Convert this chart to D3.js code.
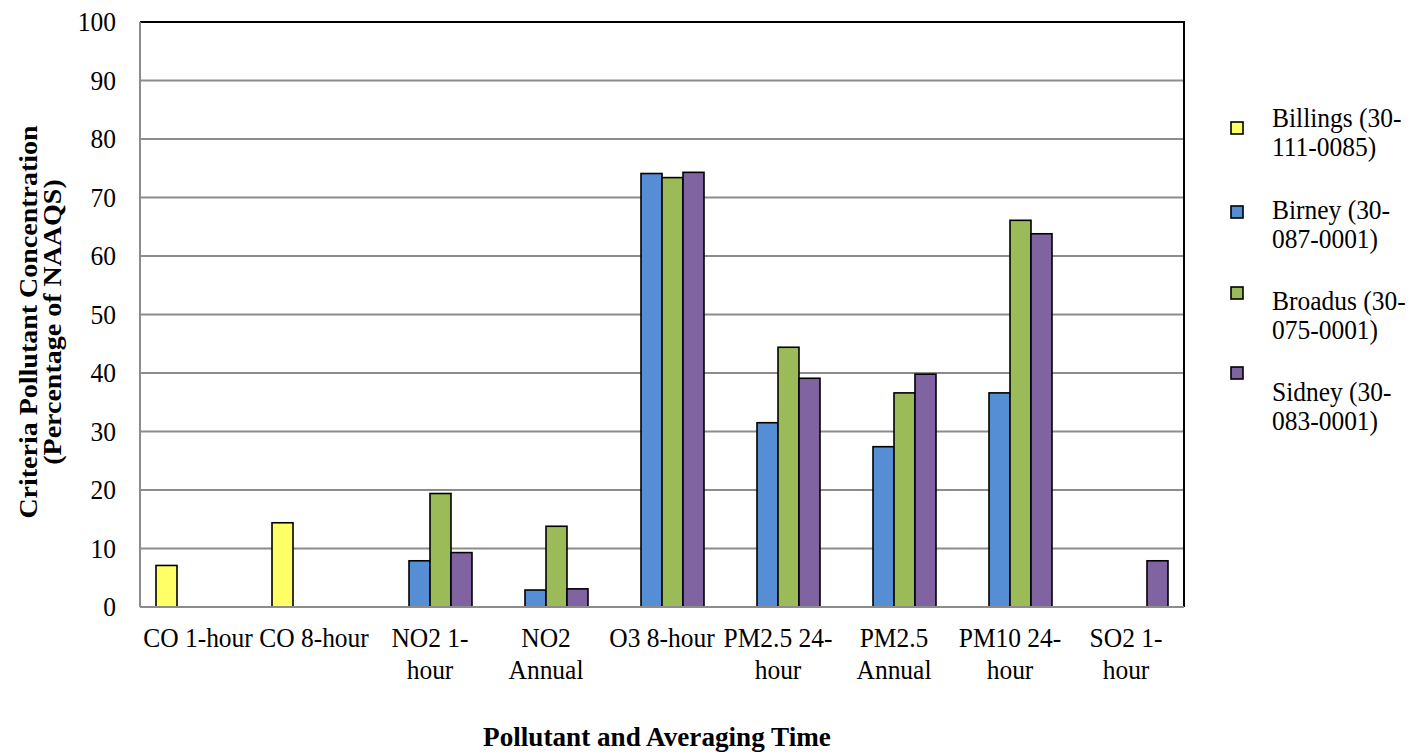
<!DOCTYPE html>
<html>
<head>
<meta charset="utf-8">
<script src="https://cdn.jsdelivr.net/npm/d3@7"></script>
<style>
  html, body { margin: 0; padding: 0; background: #fff; }
  svg { display: block; }
  svg text { font-family: "Liberation Serif", "Times New Roman", serif; fill: #000; }
</style>
</head>
<body>
<svg id="chart" width="1418" height="754"></svg>
<script>
// Pollutants / averaging times
const categories = ["CO 1-hour", "CO 8-hour", "NO2 1-hour", "NO2 Annual", "O3 8-hour",
  "PM2.5 24-hour", "PM2.5 Annual", "PM10 24-hour", "SO2 1-hour"];
// Wrapped tick labels, one array of lines per category
const tickLabels = [["CO 1-hour"], ["CO 8-hour"], ["NO2 1-", "hour"], ["NO2", "Annual"],
  ["O3 8-hour"], ["PM2.5 24-", "hour"], ["PM2.5", "Annual"], ["PM10 24-", "hour"], ["SO2 1-", "hour"]];
// Monitoring sites
const seriesNames = ["Billings (30-111-0085)", "Birney (30-087-0001)", "Broadus (30-075-0001)", "Sidney (30-083-0001)"];
const legendLines = [["Billings (30-", "111-0085)"], ["Birney (30-", "087-0001)"], ["Broadus (30-", "075-0001)"], ["Sidney (30-", "083-0001)"]];
// Percentage of NAAQS (null = not monitored)
const billings = [7.1, 14.4, null, null, null, null, null, null, null];
const birney   = [null, null, 7.9, 2.9, 74.1, 31.5, 27.4, 36.6, null];
const broadus  = [null, null, 19.4, 13.8, 73.4, 44.4, 36.6, 66.1, null];
const sidney   = [null, null, 9.3, 3.1, 74.3, 39.1, 39.8, 63.8, 7.9];
const yTicks = [0, 10, 20, 30, 40, 50, 60, 70, 80, 90, 100];
const colors = ["#FFFF66", "#558ED5", "#9BBB59", "#8064A2"];

const seriesValues = [billings, birney, broadus, sidney];

const svg = d3.select("#chart");
const plot = { left: 140, right: 1184, top: 22, bottom: 607 };
const SX = 0.91;         // horizontal text squeeze
const FS = 28;           // label font size

const x = d3.scaleBand().domain(categories).range([plot.left, plot.right]).paddingInner(0.276).paddingOuter(0.138);
const xs = d3.scaleBand().domain(d3.range(seriesNames.length)).range([0, x.bandwidth()]);
const y = d3.scaleLinear().domain([0, 100]).range([plot.bottom, plot.top]);

// text placed at (px, py) with a horizontal squeeze
function label(g, px, py, lines, opts = {}) {
  const t = g.append("text")
    .attr("transform", `translate(${px},${py}) scale(${opts.sx || SX},1)`)
    .attr("text-anchor", opts.anchor || "start")
    .attr("font-size", opts.size || FS)
    .attr("font-weight", opts.weight || "normal");
  lines.forEach((line, j) => {
    t.append("tspan").attr("x", 0).attr("y", j * (opts.lh || 0)).text(line);
  });
  return t;
}

// Gridlines
svg.append("g").selectAll("line").data(yTicks.filter(d => d > 0 && d < 100)).join("line")
  .attr("x1", plot.left).attr("x2", plot.right)
  .attr("y1", d => y(d)).attr("y2", d => y(d))
  .attr("stroke", "#8c8c8c").attr("stroke-width", 2);

// Top and right frame
svg.append("path")
  .attr("d", `M${plot.left},${plot.top}H${plot.right}V${plot.bottom}`)
  .attr("fill", "none").attr("stroke", "#000").attr("stroke-width", 2);

// Bars
const barData = [];
seriesValues.forEach((vals, s) => vals.forEach((v, i) => {
  if (v != null) barData.push({ s, cat: categories[i], v });
}));
svg.append("g").selectAll("rect").data(barData).join("rect")
  .attr("x", d => x(d.cat) + xs(d.s))
  .attr("y", d => y(d.v))
  .attr("width", xs.bandwidth())
  .attr("height", d => y(0) - y(d.v))
  .attr("fill", d => colors[d.s])
  .attr("stroke", "#000").attr("stroke-width", 1.6);

// Y axis
const yAxis = svg.append("g").attr("transform", `translate(${plot.left},0)`)
  .call(d3.axisLeft(y).tickValues(yTicks).tickSize(0).tickFormat(""));
yAxis.select(".domain").attr("stroke", "#8c8c8c").attr("stroke-width", 2)
  .attr("d", `M0,${plot.top}V${plot.bottom}`);
const yl = svg.append("g");
yTicks.forEach(v => label(yl, 116, y(v) + 9, [String(v)], { anchor: "end" }));

// X axis
const xAxis = svg.append("g").attr("transform", `translate(0,${plot.bottom})`)
  .call(d3.axisBottom(x).tickSize(0).tickFormat(""));
xAxis.select(".domain").attr("stroke", "#8c8c8c").attr("stroke-width", 2)
  .attr("d", `M${plot.left},0H${plot.right}`);
const xl = svg.append("g");
categories.forEach((c, i) => {
  label(xl, x(c) + x.bandwidth() / 2, plot.bottom + 40, tickLabels[i], { anchor: "middle", lh: 32 });
});

// Axis titles
label(svg, 657, 746, ["Pollutant and Averaging Time"], { anchor: "middle", weight: "bold", size: 28, sx: 0.97 });
const yt = svg.append("text")
  .attr("transform", `translate(37,322) scale(${SX},1) rotate(-90)`)
  .attr("text-anchor", "middle").attr("font-weight", "bold").attr("font-size", 28);
yt.append("tspan").attr("x", 0).attr("y", 0).text("Criteria Pollutant Concentration");
yt.append("tspan").attr("x", 0).attr("y", 24 / SX).text("(Percentage of NAAQS)");

// Legend
const legendTop = [127, 219, 310, 401];
const markerTop = [122, 206, 287, 367];
const lg = svg.append("g");
seriesNames.forEach((name, i) => {
  lg.append("rect")
    .attr("x", 1231).attr("y", markerTop[i])
    .attr("width", 12).attr("height", 12)
    .attr("fill", colors[i]).attr("stroke", "#000").attr("stroke-width", 1.6);
  label(lg, 1272, legendTop[i], legendLines[i], { lh: 29 });
});
</script>
</body>
</html>
